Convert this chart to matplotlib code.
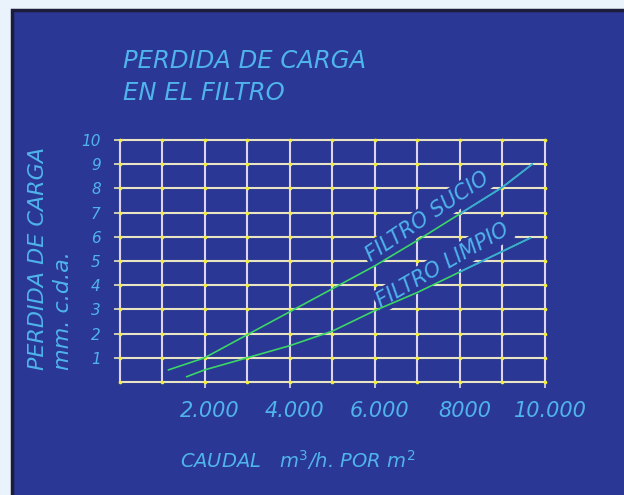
import matplotlib
matplotlib.use("Agg")
import matplotlib.pyplot as plt
import matplotlib.transforms as mtransforms
from matplotlib.patches import Rectangle
import numpy as np

# caudal (m3/h por m2) y perdida de carga (mm c.d.a.)
caudal_sucio = [1150, 2000, 3000, 4000, 5000, 6000, 7000, 8000, 9000, 9700]
perdida_sucio = [0.5, 1.0, 1.95, 2.9, 3.85, 4.8, 5.85, 6.95, 8.05, 9.0]

caudal_limpio = [1580, 2000, 3000, 4000, 5000, 6000, 7000, 8000, 9000, 9650]
perdida_limpio = [0.22, 0.5, 1.0, 1.5, 2.1, 2.95, 3.7, 4.55, 5.4, 5.95]

x_ticks = [2000, 4000, 6000, 8000, 10000]
x_tick_labels = ["2.000", "4.000", "6.000", "8000", "10.000"]
y_ticks = [1, 2, 3, 4, 5, 6, 7, 8, 9, 10]

grid_x = np.arange(0, 10001, 1000)
grid_y = np.arange(0, 11, 1)

BG = "#eaf3fb"
PANEL = "#2b3794"
TXT = "#4fb4ec"
H_LINE = "#e8e4c4"
V_LINE = "#dcd4f2"
DOT = "#f2ee3a"
GREEN = "#3ad666"
CYAN = "#3aa8e0"

plt.rcParams["font.family"] = ["DejaVu Sans"]
plt.rcParams["mathtext.fontset"] = "dejavusans"

fig = plt.figure(figsize=(6.24, 4.95), dpi=100, facecolor=BG)

# blue drawing panel
fig.patches.append(Rectangle((12 / 624, -0.01), 1.0, (485 / 495) + 0.01,
                             transform=fig.transFigure, facecolor=PANEL,
                             edgecolor="#1c1d3a", linewidth=2.5, zorder=0))

ax = fig.add_axes([119.5 / 624, 113 / 495, 425.5 / 624, 242 / 495])
ax.set_zorder(2)
ax.set_facecolor("none")
for s in ax.spines.values():
    s.set_visible(False)

ax.set_xlim(0, 10000)
ax.set_ylim(0, 10)

# grid
ax.hlines(grid_y, 0, 10000, colors=H_LINE, linewidth=1.5, zorder=1, clip_on=False)
ax.vlines(grid_x, 0, 10, colors=V_LINE, linewidth=1.5, zorder=1, clip_on=False)
gx, gy = np.meshgrid(grid_x, grid_y)
ax.scatter(gx.ravel(), gy.ravel(), s=7, color=DOT, zorder=2, clip_on=False,
           linewidths=0)

# curves
ax.plot(caudal_sucio, perdida_sucio, color=GREEN, linewidth=1.2, zorder=4)
ax.plot(caudal_limpio, perdida_limpio, color=GREEN, linewidth=1.2, zorder=4)
i_s = caudal_sucio.index(8000)
i_l = caudal_limpio.index(8000)
ax.plot(caudal_sucio[i_s:], perdida_sucio[i_s:], color=CYAN, linewidth=1.2, zorder=4)
ax.plot(caudal_limpio[i_l:], perdida_limpio[i_l:], color=CYAN, linewidth=1.2, zorder=4)

# curve labels, boxed so they break the grid
box = dict(boxstyle="square,pad=0.1", facecolor=PANEL, edgecolor="none")
ax.text(7230, 6.82, "FILTRO SUCIO", rotation=34, color=TXT, fontsize=15,
        style="oblique", ha="center", va="center", bbox=box, zorder=3,
        rotation_mode="anchor")
ax.text(7600, 4.83, "FILTRO LIMPIO", rotation=30, color=TXT, fontsize=15,
        style="oblique", ha="center", va="center", bbox=box, zorder=3,
        rotation_mode="anchor")

# ticks
ax.set_xticks(x_ticks)
ax.set_xticklabels(x_tick_labels, fontsize=15, color=TXT, style="oblique")
ax.set_yticks(y_ticks)
ax.set_yticklabels([str(v) for v in y_ticks], fontsize=11, color=TXT,
                   style="oblique")
ax.tick_params(axis="x", length=4, width=1.2, color=V_LINE, pad=10)
ax.tick_params(axis="y", length=4, width=1.2, color=H_LINE, pad=9.5)
shift = mtransforms.ScaledTranslation(5 / 100, 0, fig.dpi_scale_trans)
for lbl in ax.get_xticklabels():
    lbl.set_transform(lbl.get_transform() + shift)

# titles
fig.text(123 / 624, 1 - 68 / 495, "PERDIDA DE CARGA", color=TXT, fontsize=17.5,
         style="oblique", ha="left", va="baseline", zorder=3)
fig.text(123 / 624, 1 - 100 / 495, "EN EL FILTRO", color=TXT, fontsize=17.5,
         style="oblique", ha="left", va="baseline", zorder=3)

fig.text(38 / 624, 1 - 370 / 495, "PERDIDA DE CARGA", color=TXT, fontsize=16,
         style="oblique", rotation=90, ha="center", va="bottom", zorder=3)
fig.text(63 / 624, 1 - 370 / 495, "mm. c.d.a.", color=TXT, fontsize=16,
         style="oblique", rotation=90, ha="center", va="bottom", zorder=3)

fig.text(180 / 624, 27 / 495, "CAUDAL   $m^3$/h. POR $m^2$", color=TXT,
         fontsize=14, style="oblique", ha="left", va="baseline", zorder=3)

fig.savefig("out.png", dpi=100, facecolor=BG)
plt.close(fig)
